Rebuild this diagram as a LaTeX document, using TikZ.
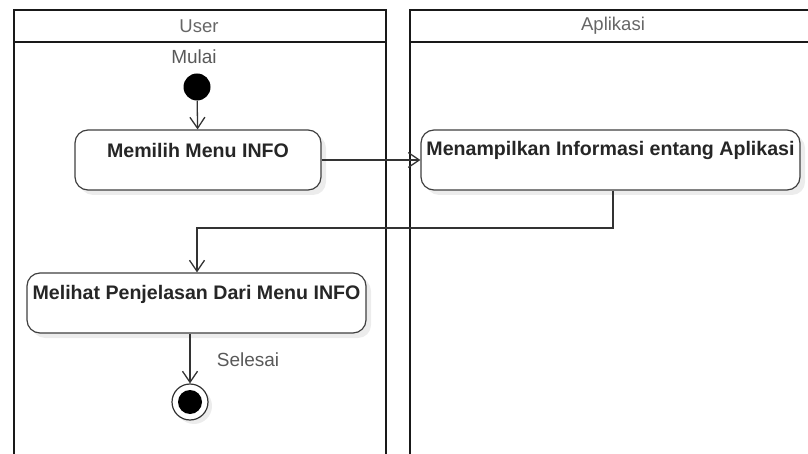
\documentclass[tikz,border=0pt]{standalone}
\usepackage{fontspec}
\setmainfont{Liberation Sans}
\usetikzlibrary{arrows.meta,shadows}
\begin{document}
\begin{tikzpicture}[x=1pt,y=-1pt,
  lane/.style={draw=black!90,line width=2.2pt},
  act/.style={draw=black!75,line width=1.2pt,rounded corners=13pt,fill=white,
    drop shadow={shadow xshift=5pt,shadow yshift=-5pt,fill=black!12,opacity=0.6},
    inner sep=0pt},
  acttext/.style={font=\bfseries\fontsize{19.6}{22}\selectfont,text=black!85,inner sep=0pt},
  flow/.style={draw=black!80,line width=1.3pt,-{Straight Barb[length=11pt,width=15pt,line width=1.3pt]}},
  hdr/.style={font=\fontsize{18.5}{21}\selectfont,text=black!60},
  lbl/.style={font=\fontsize{19}{21}\selectfont,text=black!65}]
\useasboundingbox (0,0) rectangle (808,454);
\begin{scope}
\clip (0,0) rectangle (808,454);
% swimlanes
\draw[lane] (14,470) -- (14,10) -- (386,10) -- (386,470);
\draw[lane] (14,42) -- (386,42);
\draw[lane] (410,470) -- (410,10) -- (830,10);
\draw[lane] (410,42) -- (830,42);
\end{scope}
\node[hdr] (hUser) at (199,26) {User};
\node[hdr] (hApp) at (613,26) {Aplikasi};
% start and end states
\node[lbl] (mulai) at (194,57) {Mulai};
\node[circle,fill=black,minimum size=27pt,inner sep=0pt] (start) at (197,87) {};
\node[circle,draw=black!80,line width=1.2pt,fill=white,minimum size=36pt,inner sep=0pt,
  drop shadow={shadow xshift=4pt,shadow yshift=-4pt,fill=black!12,opacity=0.6}] (stop) at (190,402) {};
\node[circle,fill=black,minimum size=24pt,inner sep=0pt] (stopin) at (stop) {};
\node[lbl] (selesai) at (248,360) {Selesai};
% activities
\node[act,minimum width=246pt,minimum height=60pt] (a1) at (198,160) {};
\node[acttext] (t1) at (198,150) {Memilih Menu INFO};
\node[act,minimum width=379pt,minimum height=60pt] (a2) at (610.5,160) {};
\node[acttext] (t2) at (610.5,150) {Menampilkan Informasi entang Aplikasi};
\node[act,minimum width=339pt,minimum height=60pt] (a3) at (196.5,303) {};
\node[acttext] (t3) at (196.5,294) {Melihat Penjelasan Dari Menu INFO};
% control flow
\draw[flow] (start) -- (a1);
\draw[flow] (a1.east) -- (a2.west);
\coordinate (c1) at (613,228);
\coordinate (c2) at (197,228);
\draw[flow] (a2.south -| c1) -- (c1) -- (c2) -- (c2 |- a3.north);
\draw[flow] (a3.south -| stop) -- (stop);
\end{tikzpicture}
\end{document}
